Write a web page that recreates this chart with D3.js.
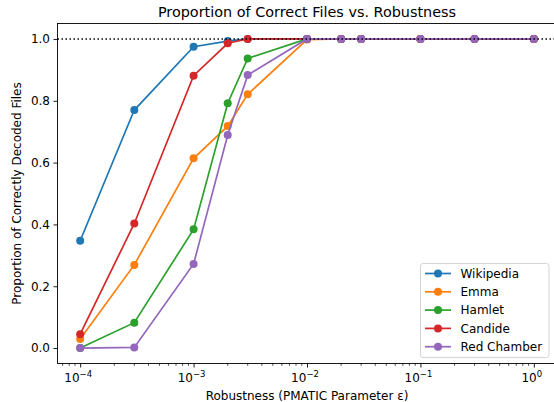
<!DOCTYPE html>
<html>
<head>
<meta charset="utf-8">
<script src="https://cdn.jsdelivr.net/npm/d3@7"></script>
<style>
	body { margin: 0; background: #fff; }
	text { font-family: "DejaVu Sans", sans-serif; fill: #000; }
</style>
</head>
<body>
<div id="chart"></div>
<script>
var epsilons = [1e-4, 3e-4, 1e-3, 2e-3, 3e-3, 1e-2, 2e-2, 3e-2, 1e-1, 3e-1, 1];
var wikipedia  = [0.347, 0.770, 0.975, 0.993, 1.0, 1.0, 1.0, 1.0, 1.0, 1.0, 1.0];
var emma       = [0.029, 0.269, 0.614, 0.718, 0.821, 0.998, 1.0, 1.0, 1.0, 1.0, 1.0];
var hamlet     = [0.0, 0.082, 0.384, 0.792, 0.937, 1.0, 1.0, 1.0, 1.0, 1.0, 1.0];
var candide    = [0.045, 0.403, 0.881, 0.986, 1.0, 1.0, 1.0, 1.0, 1.0, 1.0, 1.0];
var redChamber = [0.0, 0.002, 0.272, 0.689, 0.883, 1.0, 1.0, 1.0, 1.0, 1.0, 1.0];

var seriesNames = ["Wikipedia", "Emma", "Hamlet", "Candide", "Red Chamber"];
var seriesValues = [wikipedia, emma, hamlet, candide, redChamber];
var colors = ["#1f77b4", "#ff7f0e", "#2ca02c", "#d62728", "#9467bd"];
var xTicks = [1e-4, 1e-3, 1e-2, 1e-1, 1];
var xTickExp = ["\u22124", "\u22123", "\u22122", "\u22121", "0"];
var yTicks = [0, 0.2, 0.4, 0.6, 0.8, 1.0];

var width = 554;
var height = 402;
var axLeft = 57.5, axRight = 556.5, axTop = 23.5, axBottom = 363.5;

var svg = d3.select("#chart")
	.append("svg")
	.attr("width", width)
	.attr("height", height);

var x = d3.scaleLog()
	.domain([Math.pow(10, -4.2), Math.pow(10, 0.2)])
	.range([axLeft, axRight]);
var y = d3.scaleLinear()
	.domain([-0.05, 1.05])
	.range([axBottom, axTop]);

svg.append("defs").append("clipPath").attr("id", "clip")
	.append("rect")
	.attr("x", axLeft).attr("y", axTop)
	.attr("width", axRight - axLeft).attr("height", axBottom - axTop);

// minor ticks
var minors = [];
for (var e = -5; e <= 0; e++) {
	for (var m = 2; m <= 9; m++) {
		var v = m * Math.pow(10, e);
		if (v > x.domain()[0] && v < x.domain()[1]) minors.push(v);
	}
}
svg.append("g")
	.selectAll("line")
	.data(minors)
	.enter()
	.append("line")
	.attr("x1", function(d) { return x(d); })
	.attr("x2", function(d) { return x(d); })
	.attr("y1", axBottom)
	.attr("y2", axBottom + 2.3)
	.attr("stroke", "#000")
	.attr("stroke-width", 0.7);

var xAxis = svg.append("g")
	.attr("transform", "translate(0," + axBottom + ")")
	.call(d3.axisBottom(x).tickValues(xTicks).tickSize(4).tickFormat(""));
xAxis.select(".domain").remove();
xAxis.selectAll(".tick line").attr("stroke-width", 0.9);

var xLabels = svg.append("g");
xTicks.forEach(function(t, i) {
	var txt = xLabels.append("text")
		.attr("x", x(t) - 2)
		.attr("y", axBottom + 18.5)
		.attr("text-anchor", "middle")
		.attr("font-size", 12);
	txt.append("tspan").text("10");
	txt.append("tspan")
		.attr("dy", -5)
		.attr("font-size", 8.5)
		.text(xTickExp[i]);
});

var yAxis = svg.append("g")
	.attr("transform", "translate(" + axLeft + ",0)")
	.call(d3.axisLeft(y).tickValues(yTicks).tickSize(4).tickPadding(3.5).tickFormat(d3.format(".1f")));
yAxis.select(".domain").remove();
yAxis.selectAll(".tick line").attr("stroke-width", 0.9);
yAxis.selectAll("text")
	.attr("font-size", 12)
	.attr("font-family", "DejaVu Sans")
	.attr("fill", "#000");

var plot = svg.append("g").attr("clip-path", "url(#clip)");

var line = d3.line()
	.x(function(d) { return x(d[0]); })
	.y(function(d) { return y(d[1]); });

seriesValues.forEach(function(vals, i) {
	var pts = epsilons.map(function(e, j) { return [e, vals[j]]; });
	var g = plot.append("g");
	g.append("path")
		.datum(pts)
		.attr("d", line)
		.attr("fill", "none")
		.attr("stroke", colors[i])
		.attr("stroke-width", 1.7);
	g.selectAll("circle")
		.data(pts)
		.enter()
		.append("circle")
		.attr("cx", function(d) { return x(d[0]); })
		.attr("cy", function(d) { return y(d[1]); })
		.attr("r", 4)
		.attr("fill", colors[i]);
});

// reference line at 1.0
plot.append("line")
	.attr("x1", axLeft)
	.attr("x2", axRight)
	.attr("y1", y(1))
	.attr("y2", y(1))
	.attr("stroke", "#000")
	.attr("stroke-width", 1.5)
	.attr("stroke-dasharray", "1.5,2.5");

// frame
svg.append("rect")
	.attr("x", axLeft).attr("y", axTop)
	.attr("width", axRight - axLeft).attr("height", axBottom - axTop)
	.attr("fill", "none")
	.attr("stroke", "#000")
	.attr("stroke-width", 0.9);

svg.append("text")
	.attr("x", (axLeft + axRight) / 2)
	.attr("y", 17)
	.attr("text-anchor", "middle")
	.attr("font-size", 14.4)
	.text("Proportion of Correct Files vs. Robustness");

svg.append("text")
	.attr("x", (axLeft + axRight) / 2)
	.attr("y", 399.5)
	.attr("text-anchor", "middle")
	.attr("font-size", 12)
	.text("Robustness (PMATIC Parameter \u03b5)");

svg.append("text")
	.attr("transform", "translate(21," + ((axTop + axBottom) / 2) + ") rotate(-90)")
	.attr("text-anchor", "middle")
	.attr("font-size", 12)
	.text("Proportion of Correctly Decoded Files");

// legend
var legend = svg.append("g").attr("transform", "translate(420.5,263.5)");
legend.append("rect")
	.attr("width", 128.5)
	.attr("height", 94)
	.attr("rx", 2.5)
	.attr("fill", "#fff")
	.attr("fill-opacity", 0.8)
	.attr("stroke", "#d0d0d0")
	.attr("stroke-width", 0.9);
seriesNames.forEach(function(name, i) {
	var ly = 10 + i * 18.3;
	legend.append("line")
		.attr("x1", 4.5).attr("x2", 30.5)
		.attr("y1", ly).attr("y2", ly)
		.attr("stroke", colors[i])
		.attr("stroke-width", 1.7);
	legend.append("circle")
		.attr("cx", 17.5).attr("cy", ly)
		.attr("r", 4)
		.attr("fill", colors[i]);
	legend.append("text")
		.attr("x", 40)
		.attr("y", ly + 4.3)
		.attr("font-size", 12)
		.text(name);
});
</script>
</body>
</html>
